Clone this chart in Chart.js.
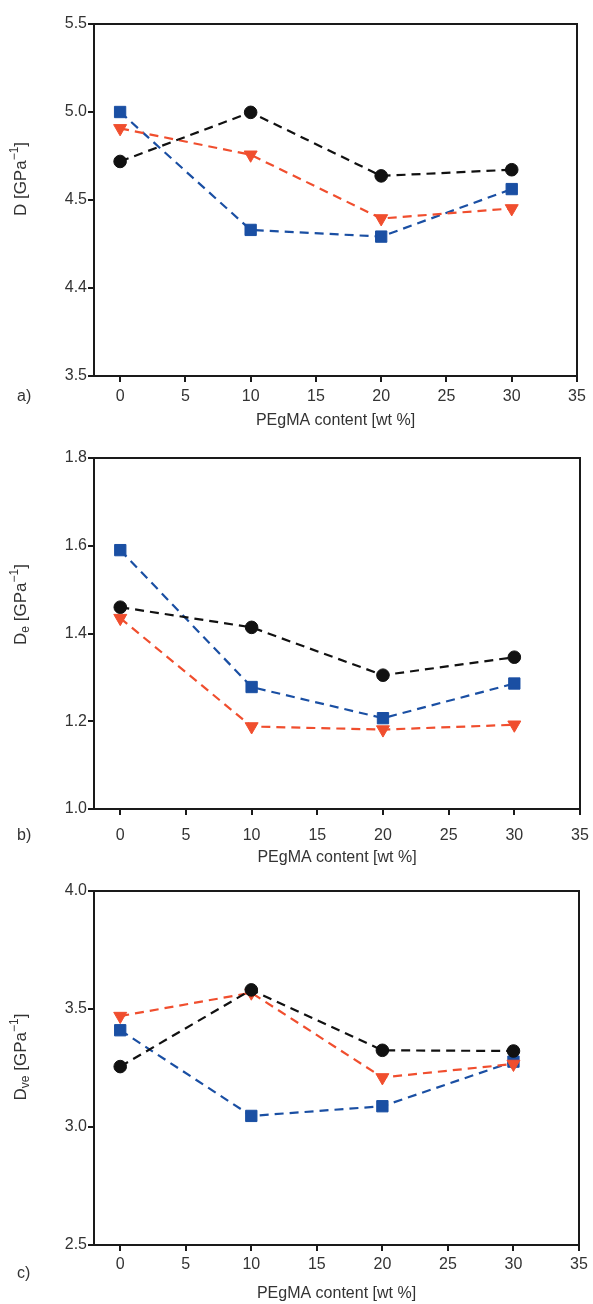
<!DOCTYPE html>
<html>
<head>
<meta charset="utf-8">
<script src="https://cdn.jsdelivr.net/npm/chart.js@4.4.0/dist/chart.umd.min.js"></script>
<style>
  body { margin: 0; background: #fff; }
  canvas { position: absolute; left: 0; }
</style>
</head>
<body>
<canvas id="panelA" width="593" height="435" style="top:0px"></canvas>
<canvas id="panelB" width="593" height="435" style="top:435px"></canvas>
<canvas id="panelC" width="593" height="434" style="top:870px"></canvas>
<script>
// PEgMA content [wt %]
const contentWt = [0, 10, 20, 30];
const xTicks = [0, 5, 10, 15, 20, 25, 30, 35];

// a) D
const dBlack = [4.719, 4.998, 4.637, 4.672];
const dBlue = [5.0, 4.330, 4.292, 4.562];
const dRed = [4.907, 4.757, 4.395, 4.452];
const dTicks = [3.5, 4.0, 4.5, 5.0, 5.5];
const dTickLabels = ['3.5', '4.4', '4.5', '5.0', '5.5'];

// b) De
const deBlack = [1.460, 1.414, 1.305, 1.346];
const deBlue = [1.590, 1.278, 1.207, 1.286];
const deRed = [1.435, 1.188, 1.181, 1.192];
const deTicks = [1.0, 1.2, 1.4, 1.6, 1.8];
const deTickLabels = ['1.0', '1.2', '1.4', '1.6', '1.8'];

// c) Dve
const dveBlack = [3.256, 3.581, 3.325, 3.322];
const dveBlue = [3.410, 3.047, 3.088, 3.277];
const dveRed = [3.470, 3.569, 3.210, 3.267];
const dveTicks = [2.5, 3.0, 3.5, 4.0];
const dveTickLabels = ['2.5', '3.0', '3.5', '4.0'];

const FONT = '"Liberation Sans", Arial, Helvetica, sans-serif';
const TEXT = '#333';
const AXIS = '#1a1a1a';

const toPoints = (ys) => ys.map((y, i) => ({ x: contentWt[i], y: y }));

const series = (data, color, style, radius, rotation) => ({
  data: toPoints(data),
  borderColor: color,
  backgroundColor: color,
  borderWidth: 2.2,
  borderDash: [9, 6],
  pointStyle: style,
  pointRadius: radius,
  pointRotation: rotation || 0,
  pointBorderWidth: 1,
  pointBorderColor: color,
  pointBackgroundColor: color,
  tension: 0
});

const panelDecor = {
  id: 'panelDecor',
  beforeDatasetsDraw(chart) {
    const { ctx, chartArea: a } = chart;
    ctx.save();
    ctx.strokeStyle = AXIS;
    ctx.lineWidth = 2;
    ctx.strokeRect(a.left, a.top, a.right - a.left, a.bottom - a.top);
    ctx.restore();
  },
  afterDraw(chart, args, o) {
    const { ctx, chartArea: a } = chart;
    ctx.save();
    ctx.fillStyle = TEXT;
    ctx.textBaseline = 'middle';
    ctx.textAlign = 'left';
    ctx.font = '16px ' + FONT;
    ctx.fillText(o.letter, 17, o.letterY);

    // y title with sub / superscripts
    const fontFor = (k) => (k ? '12px ' : '17px ') + FONT;
    let total = 0;
    o.title.forEach(([t, k]) => { ctx.font = fontFor(k); total += ctx.measureText(t).width; });
    ctx.translate(21, (a.top + a.bottom) / 2 + o.titleShift);
    ctx.rotate(-Math.PI / 2);
    let x = -total / 2;
    o.title.forEach(([t, k]) => {
      ctx.font = fontFor(k);
      const dy = k === 'sub' ? 5 : k === 'sup' ? -6 : 0;
      ctx.fillText(t, x, dy);
      x += ctx.measureText(t).width;
    });
    ctx.restore();
  }
};

function makePanel(id, black, blue, red, yTicks, yLabels, layout) {
  const canvas = document.getElementById(id);
  const H = canvas.height;
  return new Chart(canvas, {
    type: 'line',
    data: {
      datasets: [
        series(black, '#111111', 'circle', 6.3),
        series(red, '#f04e2e', 'triangle', 7.5, 180),
        series(blue, '#1a4fa3', 'rect', 8)
      ]
    },
    plugins: [panelDecor],
    options: {
      responsive: false,
      animation: false,
      devicePixelRatio: 1,
      layout: { padding: { left: 0, top: layout.top, right: 593 - layout.right, bottom: 0 } },
      plugins: {
        legend: { display: false },
        tooltip: { enabled: false },
        panelDecor: layout.decor
      },
      scales: {
        x: {
          type: 'linear',
          min: -2,
          max: 35,
          afterBuildTicks: (s) => { s.ticks = xTicks.map(v => ({ value: v })); },
          afterFit: (s) => {
            s.height = H - layout.bottom;
            s.paddingLeft = 0;
            s.paddingRight = 0;
          },
          border: { display: false },
          grid: { drawOnChartArea: false, drawTicks: true, tickLength: 6, lineWidth: 2, color: AXIS },
          ticks: { color: TEXT, padding: layout.xPad, font: { family: FONT, size: 16 } },
          title: {
            display: true,
            text: 'PEgMA content [wt %]',
            color: TEXT,
            font: { family: FONT, size: 16 },
            padding: { top: 0, bottom: layout.titlePad }
          }
        },
        y: {
          type: 'linear',
          min: yTicks[0],
          max: yTicks[yTicks.length - 1],
          afterBuildTicks: (s) => { s.ticks = yTicks.map(v => ({ value: v })); },
          afterFit: (s) => { s.width = 94; },
          border: { display: false },
          grid: { drawOnChartArea: false, drawTicks: true, tickLength: 6, lineWidth: 2, color: AXIS },
          ticks: {
            color: TEXT,
            padding: 1,
            font: { family: FONT, size: 16 },
            callback: (v, i) => yLabels[i]
          }
        }
      }
    }
  });
}

makePanel('panelA', dBlack, dBlue, dRed, dTicks, dTickLabels, {
  top: 24, bottom: 376, right: 577, xPad: 5, titlePad: 5,
  decor: { letter: 'a)', letterY: 397, titleShift: -21,
    title: [['D', ''], [' [GPa', ''], ['\u22121', 'sup'], [']', '']] }
});

makePanel('panelB', deBlack, deBlue, deRed, deTicks, deTickLabels, {
  top: 23, bottom: 374, right: 580, xPad: 11, titlePad: 3,
  decor: { letter: 'b)', letterY: 401, titleShift: -29,
    title: [['D', ''], ['e', 'sub'], [' [GPa', ''], ['\u22121', 'sup'], [']', '']] }
});

makePanel('panelC', dveBlack, dveBlue, dveRed, dveTicks, dveTickLabels, {
  top: 21, bottom: 375, right: 579, xPad: 4, titlePad: 1,
  decor: { letter: 'c)', letterY: 404, titleShift: -11,
    title: [['D', ''], ['ve', 'sub'], [' [GPa', ''], ['\u22121', 'sup'], [']', '']] }
});
</script>
</body>
</html>
